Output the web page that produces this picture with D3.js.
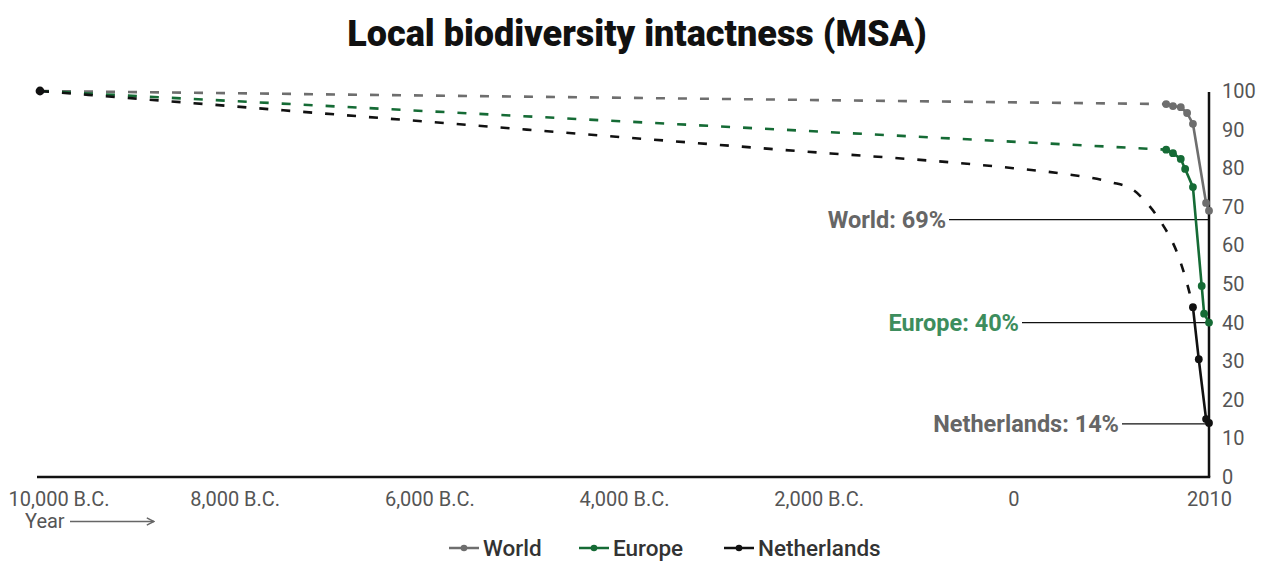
<!DOCTYPE html>
<html>
<head>
<meta charset="utf-8">
<script src="https://cdn.jsdelivr.net/npm/d3@7/dist/d3.min.js"></script>
<style>
  html, body { margin: 0; padding: 0; background: #fff; }
  svg { display: block; font-family: Roboto, "Noto Sans", sans-serif; }
</style>
</head>
<body>
<svg id="chart" width="1266" height="561"></svg>
<script>
// Mean Species Abundance (MSA), % of intact, from 10,000 B.C. to 2010.
// The first segment of each series (from 10,000 B.C.) is an estimate and drawn dashed.
const worldYears = [-10000, 1570, 1640, 1720, 1785, 1845, 1980, 2010];
const worldMSA   = [100, 96.6, 96.1, 95.8, 94.3, 91.5, 71, 69];

const europeYears = [-10000, 1570, 1640, 1720, 1765, 1845, 1935, 1960, 2010];
const europeMSA   = [100, 84.8, 83.9, 82.4, 79.8, 75.1, 49.5, 42.3, 40];

// Netherlands: estimated trajectory up to 1845, then measured values
const nlEstYears = [-10000, -7500, -5000, -2500, 0, 500, 1000, 1230, 1370, 1500, 1710, 1815, 1845];
const nlEstMSA   = [100, 95, 90, 85, 80, 78.6, 76.4, 74.4, 71, 66.7, 56.2, 47.2, 44];
const nlYears    = [1845, 1905, 1980, 2010];
const nlMSA      = [44, 30.5, 15, 14];

const xTickValues = [-10000, -8000, -6000, -4000, -2000, 0, 2010];
const xTickLabels = ["10,000 B.C.", "8,000 B.C.", "6,000 B.C.", "4,000 B.C.", "2,000 B.C.", "0", "2010"];
const yTickValues = [0, 10, 20, 30, 40, 50, 60, 70, 80, 90, 100];

const seriesNames = ["World", "Europe", "Netherlands"];
const seriesColors = ["#6e6e6e", "#156b35", "#111111"];
const labelColors = ["#666666", "#3d8d5d", "#666666"];

const svg = d3.select("#chart");
const x = d3.scaleLinear().domain([-10000, 2010]).range([40, 1209]);
const y = d3.scaleLinear().domain([0, 100]).range([477, 91]);

// Title
svg.append("text")
  .attr("x", 637).attr("y", 46)
  .attr("text-anchor", "middle")
  .attr("font-size", 36).attr("font-weight", 900)
  .attr("fill", "#111")
  .text("Local biodiversity intactness (MSA)");

const zip = (xs, ys) => xs.map((d, i) => ({ year: d, v: ys[i] }));

const series = [
  { est: zip(worldYears.slice(0, 2), worldMSA.slice(0, 2)), meas: zip(worldYears.slice(1), worldMSA.slice(1)), curve: d3.curveLinear },
  { est: zip(europeYears.slice(0, 2), europeMSA.slice(0, 2)), meas: zip(europeYears.slice(1), europeMSA.slice(1)), curve: d3.curveLinear },
  { est: zip(nlEstYears, nlEstMSA), meas: zip(nlYears, nlMSA), curve: d3.curveMonotoneX }
];

// Axes
const xAxis = d3.axisBottom(x)
  .tickValues(xTickValues)
  .tickFormat((d, i) => xTickLabels[i])
  .tickSize(0).tickPadding(15);
const gx = svg.append("g").attr("transform", `translate(0,${y(0)})`).call(xAxis);
gx.select(".domain").remove();
gx.selectAll("text").attr("font-size", 20).attr("fill", "#555")
  .attr("font-family", "Roboto, sans-serif");
gx.selectAll(".tick").filter(d => d === -10000).select("text")
  .attr("text-anchor", "start").attr("x", 8 - x(-10000));

const yAxis = d3.axisRight(y).tickValues(yTickValues).tickSize(0).tickPadding(13);
const gy = svg.append("g").attr("transform", `translate(${x(2010)},0)`).call(yAxis);
gy.select(".domain").remove();
gy.selectAll("text").attr("font-size", 20).attr("fill", "#555")
  .attr("font-family", "Roboto, sans-serif");

// Frame lines: baseline and right-hand axis
svg.append("line")
  .attr("x1", x(-10000) - 3).attr("x2", x(2010) + 1.25)
  .attr("y1", y(0)).attr("y2", y(0))
  .attr("stroke", "#111").attr("stroke-width", 2.5);
svg.append("line")
  .attr("x1", x(2010)).attr("x2", x(2010))
  .attr("y1", y(100) + 1).attr("y2", y(0))
  .attr("stroke", "#111").attr("stroke-width", 2.5);

// "Year" arrow under the axis
const defs = svg.append("defs");
defs.append("marker").attr("id", "arrow")
  .attr("viewBox", "0 0 10 10").attr("refX", 9).attr("refY", 5)
  .attr("markerWidth", 6).attr("markerHeight", 6).attr("orient", "auto")
  .append("path").attr("d", "M1,1 L9,5 L1,9").attr("fill", "none")
  .attr("stroke", "#666").attr("stroke-width", 1.6);
svg.append("text").attr("x", 25).attr("y", 528)
  .attr("font-size", 20).attr("fill", "#555").text("Year");
svg.append("line").attr("x1", 70).attr("x2", 154).attr("y1", 521.5).attr("y2", 521.5)
  .attr("stroke", "#666").attr("stroke-width", 1.5).attr("marker-end", "url(#arrow)");

// Annotation labels with leader lines to the axis
const annotations = [
  { i: 0, value: 69, dy: 9, textEnd: 946 },
  { i: 1, value: 40, dy: 0, textEnd: 1019 },
  { i: 2, value: 14, dy: 1, textEnd: 1119 }
];
annotations.forEach(a => {
  const yy = y(a.value) + a.dy;
  svg.append("line")
    .attr("x1", a.textEnd + 3).attr("x2", x(2010))
    .attr("y1", yy).attr("y2", yy)
    .attr("stroke", "#111").attr("stroke-width", 1.2);
  svg.append("text")
    .attr("x", a.textEnd).attr("y", yy + 8.5)
    .attr("text-anchor", "end")
    .attr("font-size", 23.5).attr("font-weight", 700)
    .attr("fill", labelColors[a.i])
    .text(`${seriesNames[a.i]}: ${a.value}%`);
});

// Series lines and points
series.forEach((s, i) => {
  const line = d3.line().x(d => x(d.year)).y(d => y(d.v));
  svg.append("path").datum(s.est)
    .attr("d", line.curve(s.curve))
    .attr("fill", "none").attr("stroke", seriesColors[i])
    .attr("stroke-width", 2.6).attr("stroke-dasharray", "9,13");
  svg.append("path").datum(s.meas)
    .attr("d", d3.line().x(d => x(d.year)).y(d => y(d.v))(s.meas))
    .attr("fill", "none").attr("stroke", seriesColors[i])
    .attr("stroke-width", 2.6).attr("stroke-linejoin", "round");
  svg.selectAll(null).data(s.meas).enter().append("circle")
    .attr("cx", d => x(d.year)).attr("cy", d => y(d.v))
    .attr("r", 3.9).attr("fill", seriesColors[i]);
});

// Shared starting point at 10,000 B.C.
svg.append("circle")
  .attr("cx", x(worldYears[0])).attr("cy", y(worldMSA[0]))
  .attr("r", 4.4).attr("fill", "#111");

// Legend
const legendX = [449, 579, 724];
seriesNames.forEach((name, i) => {
  const g = svg.append("g").attr("transform", `translate(${legendX[i]},548)`);
  g.append("line").attr("x1", 0).attr("x2", 30).attr("y1", 0).attr("y2", 0)
    .attr("stroke", seriesColors[i]).attr("stroke-width", 2.5);
  g.append("circle").attr("cx", 15).attr("cy", 0).attr("r", 3.3).attr("fill", seriesColors[i]);
  g.append("text").attr("x", 34).attr("y", 7.5)
    .attr("font-size", 22.5).attr("font-weight", 500).attr("fill", "#333").text(name);
});
</script>
</body>
</html>
